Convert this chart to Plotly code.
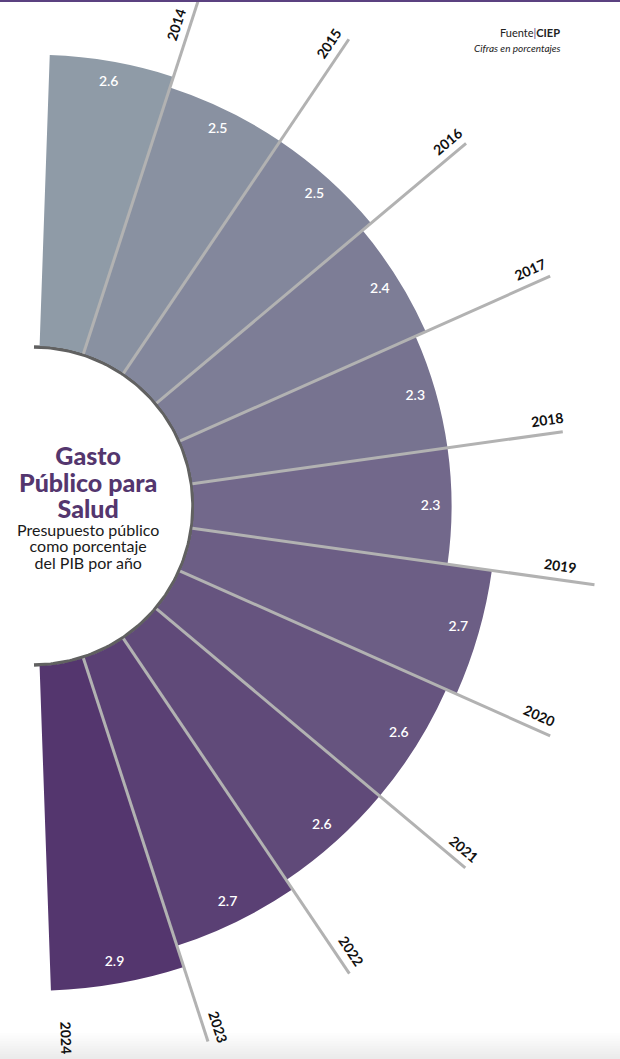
import numpy as np
import plotly.graph_objects as go

# ---------------- data ----------------
years = ["2014", "2015", "2016", "2017", "2018", "2019", "2020", "2021", "2022", "2023", "2024"]
values = [2.6, 2.5, 2.5, 2.4, 2.3, 2.3, 2.7, 2.6, 2.6, 2.7, 2.9]
title_lines = ["Gasto", "Público para", "Salud"]
subtitle_lines = ["Presupuesto público", "como porcentaje", "del PIB por año"]

# ---------------- style / geometry ----------------
bar_colors = ["#8f9ba7", "#8991a1", "#83879c", "#7d7d96", "#777390", "#72688b",
              "#6c5e85", "#66547f", "#604a79", "#5a4074", "#54366e"]
W, H = 620, 1059
CX, CY = 34, 506          # polar centre in pixels (from left / from top)
R_OUT = 506               # outer radius of the polar area (px)
HOLE_PX = 160             # hole radius (px)
PX_PER_UNIT = 112         # radial scale
R_MAX = (R_OUT - HOLE_PX) / PX_PER_UNIT
START_ANGLE, SPAN = 88.0, 176.0
LINE_END = [580, 563, 564, 565, 534, 566, 565, 563, 564, 563]       # separator ends (px)
LABEL_R = [501, 548, 551, 549, 520, 529, 547, 549, 546, 552, 532]   # year label radii (px)
LABEL_OFF = 14
GRAY_LINE = "#b2b2b2"
PURPLE = "#54366e"
FONT = "Lato"

n = len(values)
bw = SPAN / n
thetas = [START_ANGLE - bw * (i + 0.5) for i in range(n)]
bounds = [START_ANGLE - bw * (i + 1) for i in range(n)]


def px_x(px):
    return px / W


def px_y(py):
    return 1 - py / H


fig = go.Figure()

# bars
fig.add_trace(go.Barpolar(
    r=values, theta=thetas, width=[bw] * n,
    marker=dict(color=bar_colors, line=dict(width=0)),
    hoverinfo="skip", showlegend=False, subplot="polar",
))
# value labels
fig.add_trace(go.Scatterpolar(
    r=[v - 21 / PX_PER_UNIT for v in values], theta=thetas,
    mode="text", text=[f"{v:.1f}" for v in values],
    textfont=dict(family=FONT, size=14, color="white", weight=600),
    hoverinfo="skip", showlegend=False, subplot="polar",
))

# hole outline (cartesian overlay, 1 unit = 1 px, origin at polar centre)
ang = np.radians(np.linspace(-90, 90, 181))
rr = HOLE_PX - 1.0
fig.add_trace(go.Scatter(
    x=rr * np.cos(ang), y=rr * np.sin(ang), mode="lines",
    line=dict(color="#616161", width=3.5),
    hoverinfo="skip", showlegend=False, xaxis="x", yaxis="y",
))

shapes = []
# separator lines
for k in range(n - 1):
    t = np.radians(bounds[k])
    shapes.append(dict(type="line", xref="x", yref="y", layer="above",
                       x0=HOLE_PX * np.cos(t), y0=HOLE_PX * np.sin(t),
                       x1=LINE_END[k] * np.cos(t), y1=LINE_END[k] * np.sin(t),
                       line=dict(color=GRAY_LINE, width=3)))
# top purple rule
shapes.append(dict(type="line", xref="paper", yref="paper", x0=0, x1=1, y0=1, y1=1,
                   line=dict(color="#5b4180", width=4)))
# bottom soft gradient
for i in range(10):
    shapes.append(dict(type="rect", xref="paper", yref="paper", layer="below",
                       x0=0, x1=1, y0=0, y1=(i + 1) * 2.6 / H,
                       fillcolor="rgba(0,0,0,0.006)", line=dict(width=0)))

annotations = []
# year labels
for k, yr in enumerate(years):
    th = bounds[k]
    t = np.radians(th)
    r = LABEL_R[k]
    x = r * np.cos(t) - LABEL_OFF * np.sin(t)
    y = r * np.sin(t) + LABEL_OFF * np.cos(t)
    annotations.append(dict(x=x, y=y, xref="x", yref="y", text=f"<b>{yr}</b>",
                            textangle=-th, showarrow=False,
                            xanchor="center", yanchor="middle",
                            font=dict(family=FONT, size=14, color="#111111")))

# title block (line spacing set by base font size, glyphs enlarged by span)
annotations.append(dict(
    x=px_x(88), y=px_y(481), xref="paper", yref="paper",
    text="<br>".join(f"<span style='font-size:25px'>{l}</span>" for l in title_lines),
    showarrow=False, xanchor="center", yanchor="middle", align="center",
    font=dict(family=FONT, size=20.4, color=PURPLE, weight=900)))
# subtitle block
annotations.append(dict(
    x=px_x(88), y=px_y(546), xref="paper", yref="paper",
    text="<br>".join(f"<span style='font-size:16px'>{l}</span>" for l in subtitle_lines),
    showarrow=False, xanchor="center", yanchor="middle", align="center",
    font=dict(family=FONT, size=12.5, color="#1a1a1a")))

# source
annotations.append(dict(x=px_x(562), y=px_y(33), xref="paper", yref="paper",
                        text="Fuente<span style='color:#5b4180'>|</span><b>CIEP</b>",
                        showarrow=False, xanchor="right", yanchor="middle",
                        font=dict(family=FONT, size=11, color="#222222")))
annotations.append(dict(x=px_x(563), y=px_y(48), xref="paper", yref="paper",
                        text="<i>Cifras en porcentajes</i>",
                        showarrow=False, xanchor="right", yanchor="middle",
                        font=dict(family=FONT, size=10, color="#222222")))

fig.update_layout(
    width=W, height=H, margin=dict(l=0, r=0, t=0, b=0),
    paper_bgcolor="white", plot_bgcolor="rgba(0,0,0,0)",
    showlegend=False,
    polar=dict(
        domain=dict(x=[CX / W, (CX + R_OUT) / W],
                    y=[(H - CY - R_OUT) / H, (H - CY + R_OUT) / H]),
        sector=[-90, 90],
        hole=HOLE_PX / R_OUT,
        bgcolor="rgba(0,0,0,0)",
        bargap=0,
        radialaxis=dict(range=[0, R_MAX], visible=False),
        angularaxis=dict(visible=False, rotation=0, direction="counterclockwise"),
    ),
    xaxis=dict(domain=[0, 1], range=[-CX, W - CX], visible=False, fixedrange=True),
    yaxis=dict(domain=[0, 1], range=[-(H - CY), CY], visible=False, fixedrange=True),
    shapes=shapes,
    annotations=annotations,
)

fig.write_html("out.html")
